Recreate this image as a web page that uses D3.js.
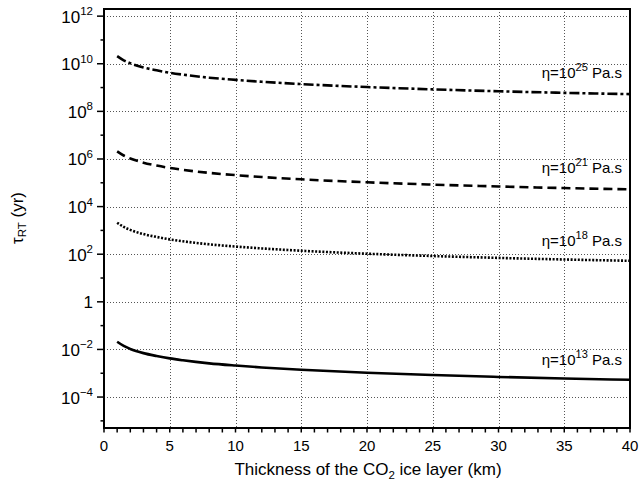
<!DOCTYPE html>
<html><head><meta charset="utf-8">
<script src="https://cdn.jsdelivr.net/npm/d3@7"></script>
<style>
body{margin:0;background:#fff;}
svg{display:block;font-family:"Liberation Sans",Arial,Helvetica,sans-serif;}
</style></head>
<body>
<svg id="chart" width="639" height="480"></svg>
<script>
const thickness = [1, 1.5, 2, 3, 4, 5, 6, 8, 10, 12, 15, 20, 25, 30, 35, 40];
const tauEta13 = [0.021, 0.014, 0.0105, 0.007, 0.0053, 0.0042, 0.0035, 0.0026, 0.0021, 0.00175, 0.0014, 0.00105, 0.00084, 0.0007, 0.0006, 0.00053];
const tauEta18 = [2100, 1400, 1050, 700, 530, 420, 350, 260, 210, 175, 140, 105, 84, 70, 60, 53];
const tauEta21 = [2.1e6, 1.4e6, 1.05e6, 7.0e5, 5.3e5, 4.2e5, 3.5e5, 2.6e5, 2.1e5, 1.75e5, 1.4e5, 1.05e5, 8.4e4, 7.0e4, 6.0e4, 5.3e4];
const tauEta25 = [2.1e10, 1.4e10, 1.05e10, 7.0e9, 5.3e9, 4.2e9, 3.5e9, 2.6e9, 2.1e9, 1.75e9, 1.4e9, 1.05e9, 8.4e8, 7.0e8, 6.0e8, 5.3e8];
const seriesExp = ["25", "21", "18", "13"];
const xTicks = [0, 5, 10, 15, 20, 25, 30, 35, 40];
const yTickExps = [-4, -2, 0, 2, 4, 6, 8, 10, 12];
const yMinorExps = [-5, -3, -1, 1, 3, 5, 7, 9, 11];

const series = [
  {exp: seriesExp[0], values: tauEta25, dash: "10,3,3,3"},
  {exp: seriesExp[1], values: tauEta21, dash: "9,5"},
  {exp: seriesExp[2], values: tauEta18, dash: "2,1.6"},
  {exp: seriesExp[3], values: tauEta13, dash: null}
];

const svg = d3.select("#chart");
const L = 104, R = 630, T = 9, B = 428;
const x = d3.scaleLinear().domain([0, 40]).range([L, R]);
const y = d3.scaleLog().domain([Math.pow(10, -5.3), Math.pow(10, 12.3)]).range([B, T]);
const px = v => Math.round(v) + 0.5;

// grid
const grid = svg.append("g").attr("stroke", "#555").attr("stroke-width", 1)
  .attr("stroke-dasharray", "1,2").attr("shape-rendering", "crispEdges");
xTicks.slice(1, -1).forEach(t => grid.append("line").attr("x1", px(x(t))).attr("x2", px(x(t))).attr("y1", T).attr("y2", B));
yTickExps.forEach(e => grid.append("line").attr("x1", L).attr("x2", R).attr("y1", px(y(Math.pow(10, e)))).attr("y2", px(y(Math.pow(10, e)))));

// curves
const line = d3.line().x(d => x(d[0])).y(d => y(d[1])).curve(d3.curveMonotoneX);
series.forEach(s => {
  const pts = thickness.map((h, i) => [h, s.values[i]]);
  const p = svg.append("path").datum(pts).attr("d", line).attr("fill", "none")
    .attr("stroke", "#000").attr("stroke-width", 2.6);
  if (s.dash) p.attr("stroke-dasharray", s.dash);
});

// frame
svg.append("rect").attr("x", L).attr("y", T).attr("width", R - L).attr("height", B - T)
  .attr("fill", "none").attr("stroke", "#000").attr("stroke-width", 2);

// x axis ticks
const xMinor = d3.range(0, 41, 1);
xMinor.forEach(t => svg.append("line").attr("x1", x(t)).attr("x2", x(t)).attr("y1", B).attr("y2", B + 4.5)
  .attr("stroke", "#000").attr("stroke-width", 1.5));
xTicks.forEach(t => svg.append("text").attr("x", x(t)).attr("y", 451).attr("text-anchor", "middle")
  .attr("font-size", 15).text(t));

// y axis ticks
yTickExps.forEach(e => {
  const yy = y(Math.pow(10, e));
  svg.append("line").attr("x1", L - 7).attr("x2", L).attr("y1", yy).attr("y2", yy).attr("stroke", "#000").attr("stroke-width", 1.5);
  const t = svg.append("text").attr("x", 93).attr("y", yy + 6.5).attr("text-anchor", "end").attr("font-size", 17);
  if (e === 0) { t.text("1"); }
  else {
    t.append("tspan").text("10");
    t.append("tspan").attr("font-size", 11.5).attr("dy", -7.5).text(e < 0 ? "\u2212" + (-e) : String(e));
  }
});
yMinorExps.forEach(e => {
  const yy = y(Math.pow(10, e));
  svg.append("line").attr("x1", L - 3.5).attr("x2", L).attr("y1", yy).attr("y2", yy).attr("stroke", "#000").attr("stroke-width", 1.5);
});

// series labels
const labelBaselines = [78, 173, 246, 365];
series.forEach((s, i) => {
  const t = svg.append("text").attr("x", 622).attr("y", labelBaselines[i]).attr("text-anchor", "end").attr("font-size", 15);
  t.append("tspan").text("\u03B7=10");
  t.append("tspan").attr("font-size", 11).attr("dy", -7).text(s.exp);
  t.append("tspan").attr("dy", 7).text(" Pa.s");
});

// x label
const xl = svg.append("text").attr("x", 368).attr("y", 475).attr("text-anchor", "middle").attr("font-size", 17);
xl.append("tspan").text("Thickness of the CO");
xl.append("tspan").attr("font-size", 11.5).attr("dy", 4).text("2");
xl.append("tspan").attr("dy", -4).text(" ice layer (km)");

// y label
const yl = svg.append("text").attr("transform", "translate(23,218) rotate(-90)").attr("text-anchor", "middle").attr("font-size", 17);
yl.append("tspan").text("\u03C4");
yl.append("tspan").attr("font-size", 11.5).attr("dy", 3).text("RT");
yl.append("tspan").attr("dy", -3).text(" (yr)");
</script>
</body></html>
